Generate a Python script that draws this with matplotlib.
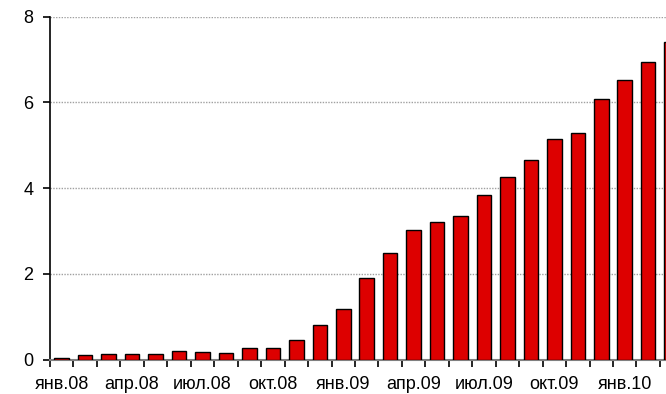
import matplotlib
matplotlib.use("Agg")
from matplotlib import pyplot as plt
import numpy as np

plt.rcParams["font.family"] = ["Liberation Sans", "DejaVu Sans"]

# monthly values, Jan 2008 - Mar 2010
values = [0.03, 0.10, 0.13, 0.13, 0.13, 0.20, 0.18, 0.15, 0.27, 0.27,
          0.45, 0.80, 1.18, 1.91, 2.50, 3.03, 3.20, 3.35, 3.84, 4.25,
          4.65, 5.15, 5.28, 6.07, 6.52, 6.95, 7.42]
tick_labels = ["янв.08", "апр.08", "июл.08", "окт.08", "янв.09",
               "апр.09", "июл.09", "окт.09", "янв.10"]
yticks = [0, 2, 4, 6, 8]

fig = plt.figure(figsize=(6.66, 3.94), dpi=100)
ax = fig.add_axes([0.0751, 0.0871, 0.9249, 0.8705])

x = np.arange(len(values))
ax.bar(x, values, width=0.62, color="#dd0000", edgecolor="black",
       linewidth=1.0, zorder=3)

ax.set_xlim(-0.5, 25.76)
ax.set_ylim(0, 8)

# dotted grey gridlines
ax.set_yticks(yticks)
ax.yaxis.grid(True, color="#a0a0a0", linestyle=(0, (1, 1)), linewidth=1.0, zorder=0)

# labels under every third month, tick marks between bars
ax.set_xticks(np.arange(0, len(tick_labels) * 3, 3))
ax.set_xticklabels(tick_labels)
ax.set_xticks(np.arange(-0.5, 26.5, 1), minor=True)
ax.tick_params(axis="x", which="major", length=0, pad=11.5, labelsize=13)
ax.tick_params(axis="x", which="minor", length=5, width=1.2, color="black",
               direction="out")
ax.tick_params(axis="y", length=5, width=1.2, pad=7, labelsize=13,
               direction="out")

for side in ["top", "right"]:
    ax.spines[side].set_visible(False)
ax.spines["left"].set_linewidth(1.2)
ax.spines["bottom"].set_color("#808080")
ax.spines["bottom"].set_linewidth(1.5)

fig.savefig("out.png", dpi=100)
